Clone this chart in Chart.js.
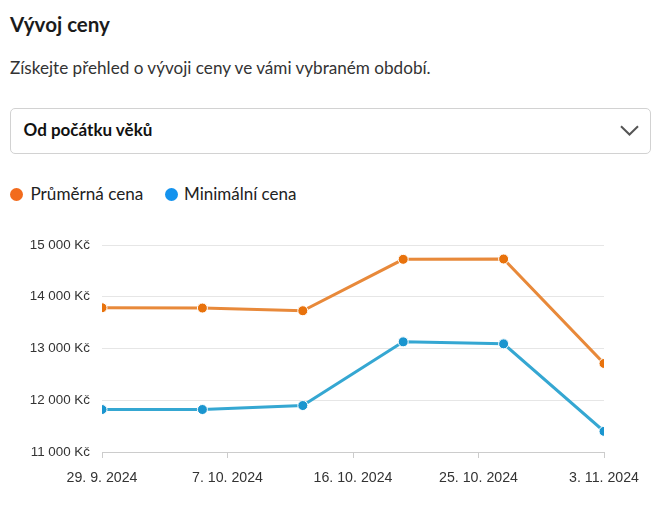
<!DOCTYPE html>
<html lang="cs">
<head>
<meta charset="utf-8">
<script src="https://cdn.jsdelivr.net/npm/chart.js@4"></script>
<style>
  html, body { margin: 0; padding: 0; background: #fff; width: 660px; height: 509px; overflow: hidden; }
  body { font-family: Lato, "Noto Sans", sans-serif; color: #1a1a1a; position: relative; }
  .t { position: absolute; white-space: nowrap; line-height: 1; margin: 0; }
  .bl { display: inline-block; width: 0; height: 0; vertical-align: baseline; }
  #title { font-weight: 700; color: #1b1b1b; }
  #sub { color: #333; }
  .select { position: absolute; left: 10px; top: 108px; width: 641px; height: 46px; border: 1px solid #d2d2d2; border-radius: 5px; box-sizing: border-box; }
  #sel { font-weight: 700; color: #111; }
  .chev { position: absolute; left: 620px; top: 125px; }
  .dot { position: absolute; width: 13px; height: 13px; border-radius: 50%; }
  .leg { color: #222; }
  #wrap { position: absolute; left: 0; top: 225px; width: 660px; height: 267px; }
</style>
</head>
<body>
<div class="t" id="title" data-x="10" data-base="32" data-w="100" data-fs="21">Vývoj ceny</div>
<div class="t" id="sub" data-x="10" data-base="74" data-w="421" data-fs="17">Získejte přehled o vývoji ceny ve vámi vybraném období.</div>
<div class="select"></div>
<div class="t" id="sel" data-x="23.5" data-base="136" data-w="129" data-fs="17">Od počátku věků</div>
<svg class="chev" width="19" height="11" viewBox="0 0 19 11"><path d="M1 1.2 L9.5 9.5 L18 1.2" fill="none" stroke="#555" stroke-width="2"/></svg>
<div id="legend"></div>
<div id="wrap"><canvas id="c"></canvas></div>
<script>
const seriesNames = ['Průměrná cena', 'Minimální cena'];
const averagePrice = [13788, 13782, 13730, 14724, 14730, 12711];
const minimumPrice = [11821, 11821, 11898, 13129, 13090, 11399];
const xTickLabels = ['29. 9. 2024', '7. 10. 2024', '16. 10. 2024', '25. 10. 2024', '3. 11. 2024'];
const yTicks = [11000, 12000, 13000, 14000, 15000];

const lineColors = ['#e8893a', '#35a7d2'];
const pointColors = ['#e8720c', '#1a95cf'];
const legendColors = ['#f26b1d', '#1493ee'];

// legend (HTML)
const legendLayout = [
  { dotX: 10, textX: 30.5, w: 113 },
  { dotX: 164.5, textX: 184, w: 112.5 }
];
const legend = document.getElementById('legend');
seriesNames.forEach((n, i) => {
  const d = document.createElement('span'); d.className = 'dot';
  d.style.background = legendColors[i];
  d.style.left = legendLayout[i].dotX + 'px'; d.style.top = '187.5px';
  legend.appendChild(d);
  const t = document.createElement('div'); t.className = 't leg';
  t.textContent = n;
  t.dataset.x = legendLayout[i].textX; t.dataset.base = 200; t.dataset.w = legendLayout[i].w; t.dataset.fs = 17;
  legend.appendChild(t);
});

// fit text widths and baselines
document.querySelectorAll('.t').forEach(el => {
  const m = document.createElement('i'); m.className = 'bl'; el.appendChild(m);
  el.style.left = el.dataset.x + 'px'; el.style.top = '0px';
  let fs = +el.dataset.fs; el.style.fontSize = fs + 'px';
  const w = el.getBoundingClientRect().width;
  fs = fs * (+el.dataset.w) / w; el.style.fontSize = fs + 'px';
  const base = m.getBoundingClientRect().bottom;
  el.style.top = (+el.dataset.base - base) + 'px';
});

const lastIdx = averagePrice.length - 1;
const toPts = arr => arr.map((v, i) => ({ x: i, y: v }));
const fmt = v => String(v).replace(/\B(?=(\d{3})+(?!\d))/g, ' ') + ' Kč';

new Chart(document.getElementById('c'), {
  type: 'line',
  data: {
    datasets: [averagePrice, minimumPrice].map((arr, i) => ({
      label: seriesNames[i],
      data: toPts(arr),
      borderColor: lineColors[i],
      backgroundColor: pointColors[i],
      pointBackgroundColor: pointColors[i],
      pointBorderColor: '#fff',
      pointBorderWidth: 1,
      pointRadius: 5,
      borderWidth: 3,
      tension: 0
    }))
  },
  options: {
    responsive: true, maintainAspectRatio: false, animation: false,
    layout: { padding: { left: 0, right: 56, top: 19, bottom: 0 } },
    plugins: { legend: { display: false }, tooltip: { enabled: false } },
    scales: {
      x: {
        type: 'linear', min: 0, max: lastIdx,
        afterBuildTicks: s => { s.ticks = xTickLabels.map((_, i) => ({ value: i * lastIdx / (xTickLabels.length - 1) })); },
        afterFit: s => { s.height = 40; },
        ticks: { callback: (v, i) => xTickLabels[i], color: '#333', font: { family: 'Liberation Sans, Arial', size: 14.2 }, padding: 12, maxRotation: 0, autoSkip: false },
        grid: { drawOnChartArea: false, drawTicks: true, tickLength: 6, color: '#ccc', lineWidth: 1 },
        border: { display: true, color: '#ccc', width: 1 }
      },
      y: {
        min: 11000, max: 15000,
        afterBuildTicks: s => { s.ticks = yTicks.map(v => ({ value: v })); },
        afterFit: s => { s.width = 102; },
        ticks: { callback: v => fmt(v), color: '#333', font: { family: 'Liberation Sans, Arial', size: 13.4 }, padding: 12 },
        grid: { color: '#e6e6e6', lineWidth: 1, drawTicks: false },
        border: { display: false }
      }
    }
  }
});
</script>
</body>
</html>
